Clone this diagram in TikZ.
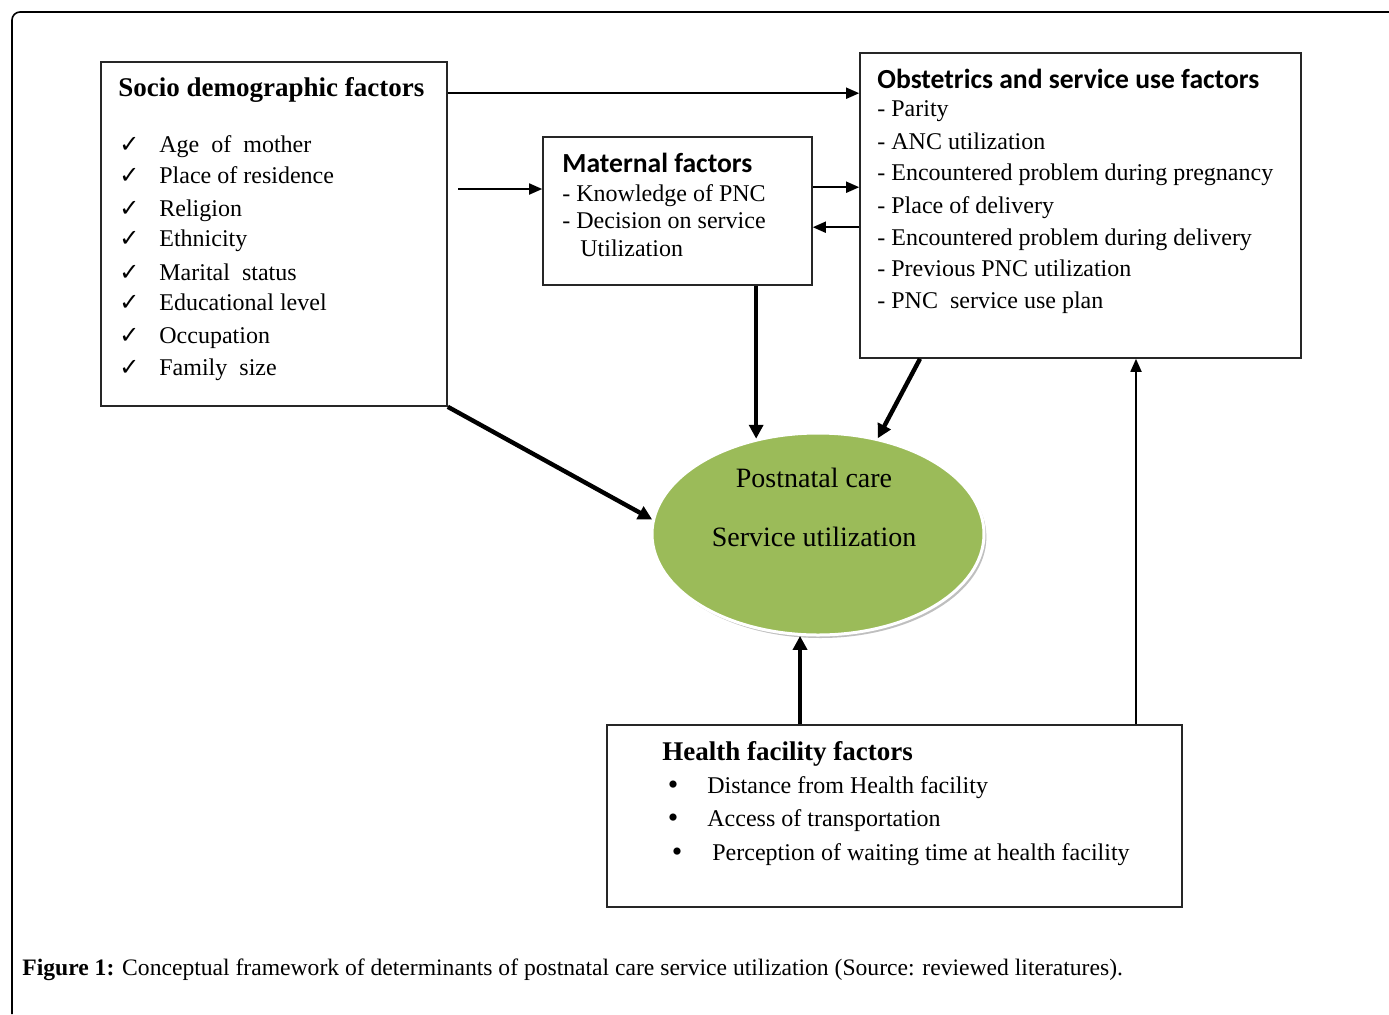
\documentclass[tikz,border=0pt]{standalone}
\usepackage{fontspec}
\setmainfont{Liberation Serif}
\newfontfamily\headfont{Carlito}
\newfontfamily\symfont{DejaVu Sans}
\usetikzlibrary{arrows.meta,shapes.geometric,shadows}

\definecolor{pncgreen}{HTML}{9BBB59}

\tikzset{
  frame/.style={line width=0.8pt, rounded corners=4pt},
  factorbox/.style={draw=black!85, line width=0.8pt, inner sep=0pt},
  pncoval/.style={ellipse, fill=pncgreen, draw=white, line width=1.5pt, inner sep=0pt,
    minimum width=166pt, minimum height=101pt,
    drop shadow={shadow xshift=1.2pt, shadow yshift=-1.5pt, fill=black, opacity=0.25}},
  serifhead/.style={anchor=mid west, inner sep=0pt, yshift=-2pt, font=\fontsize{13.5}{16}\selectfont\bfseries},
  sanshead/.style={anchor=mid west, inner sep=0pt, yshift=-2pt, font=\fontsize{13.8}{16}\selectfont\headfont\bfseries},
  item/.style={anchor=mid west, inner sep=0pt, yshift=-2pt, font=\fontsize{12}{14}\selectfont},
  checkmk/.style={anchor=mid west, inner sep=0pt, yshift=-2pt, font=\fontsize{12}{14}\selectfont\symfont},
  bulletmk/.style={anchor=center, inner sep=0pt, yshift=-1.5pt, font=\fontsize{15}{16}\selectfont},
  pnctext/.style={anchor=mid, inner sep=0pt, yshift=-2pt, font=\fontsize{14}{16}\selectfont},
  thinarrow/.style={line width=0.9pt, -{Triangle[length=6.5pt,width=5.5pt]}},
  thickarrow/.style={line width=2.2pt, -{Triangle[length=7pt,width=7pt]}}
}

\begin{document}
\begin{tikzpicture}[x=0.5pt,y=-0.5pt]
\useasboundingbox (0,0) rectangle (1389,1014);
\draw[frame] (12,1014) -- (12,12) -- (1389,12); % outer frame

% boxes
\node[factorbox, minimum width=173pt, minimum height=172pt] (socio) at (274,234) {};
\node[factorbox, minimum width=134.5pt, minimum height=74pt] (mat) at (677.5,211) {};
\node[factorbox, minimum width=220.5pt, minimum height=152.5pt] (obst) at (1080.5,205.5) {};
\node[factorbox, minimum width=287.5pt, minimum height=91pt] (health) at (894.5,816) {};
\node[pncoval] (pnc) at (818,534) {}; % outcome

% socio demographic factors
\node[serifhead] (socio-t) at (118,88) {Socio demographic factors};
\foreach \y/\txt [count=\i] in {144/Age\ \ of\ \ mother, 175/Place of residence,
    208/Religion, 238/Ethnicity, 272/Marital\ \ status, 302/Educational level,
    335/Occupation, 367/Family\ \ size}{
  \node[checkmk] (socio-c\i) at (119,\y) {✓};
  \node[item] (socio-\i) at (159,\y) {\txt};
}

% maternal factors
\node[sanshead] (mat-t) at (562,164) {Maternal factors};
\node[item] (mat-1) at (562,193) {- Knowledge of PNC};
\node[item] (mat-2) at (562,220) {- Decision on service};
\node[item] (mat-3) at (580,248) {Utilization};

% obstetrics and service use factors
\node[sanshead] (obst-t) at (877,80) {Obstetrics and service use factors};
\foreach \y/\txt [count=\i] in {108/Parity, 141/ANC utilization,
    172/Encountered problem during pregnancy, 205/Place of delivery,
    237/Encountered problem during delivery, 268/Previous PNC utilization,
    300/PNC\ \ service use plan}{
  \node[item] (obst-\i) at (877,\y) {- \txt};
}

% health facility factors
\node[serifhead] (health-t) at (662,752) {Health facility factors};
\foreach \bx/\tx/\y/\txt [count=\i] in {673/707/785/Distance from Health facility,
    673/707/818/Access of transportation,
    677/712/852/Perception of waiting time at health facility}{
  \node[bulletmk] (health-b\i) at (\bx,\y) {\textbullet};
  \node[item] (health-\i) at (\tx,\y) {\txt};
}

% outcome text
\node[pnctext] (pnc-1) at (814,479) {Postnatal care};
\node[pnctext] (pnc-2) at (814,538) {Service utilization};

% connectors
\coordinate (mat-in) at (458,189);
\draw[thinarrow] ([yshift=-16pt]socio.north east) -- ([yshift=-16pt]socio.north east -| obst.west);
\draw[thinarrow] (mat-in) -- (mat-in -| mat.west);
\draw[thinarrow] ([yshift=-25.5pt]mat.north east) -- ([yshift=-25.5pt]mat.north east -| obst.west);
\draw[thinarrow] ([yshift=-45.5pt]mat.north east -| obst.west) -- ([yshift=-45.5pt]mat.north east);
\draw[thinarrow] ([xshift=120.75pt]health.north) -- ([xshift=120.75pt]health.north |- obst.south);
\draw[thickarrow] (pnc.123 |- mat.south) -- (pnc.123);
\draw[thickarrow] ([xshift=-80.25pt]obst.south) -- (pnc.58);
\draw[thickarrow] (socio.south east) -- (pnc.175);
\draw[thickarrow] (pnc.260 |- health.north) -- (pnc.260);

% caption
\node[anchor=mid west, inner sep=0pt, yshift=-2pt, font=\fontsize{11.8}{14}\selectfont] (caption) at (22,967)
  {\textbf{Figure 1:} Conceptual framework of determinants of postnatal care service utilization (Source: reviewed literatures).};
\end{tikzpicture}
\end{document}
